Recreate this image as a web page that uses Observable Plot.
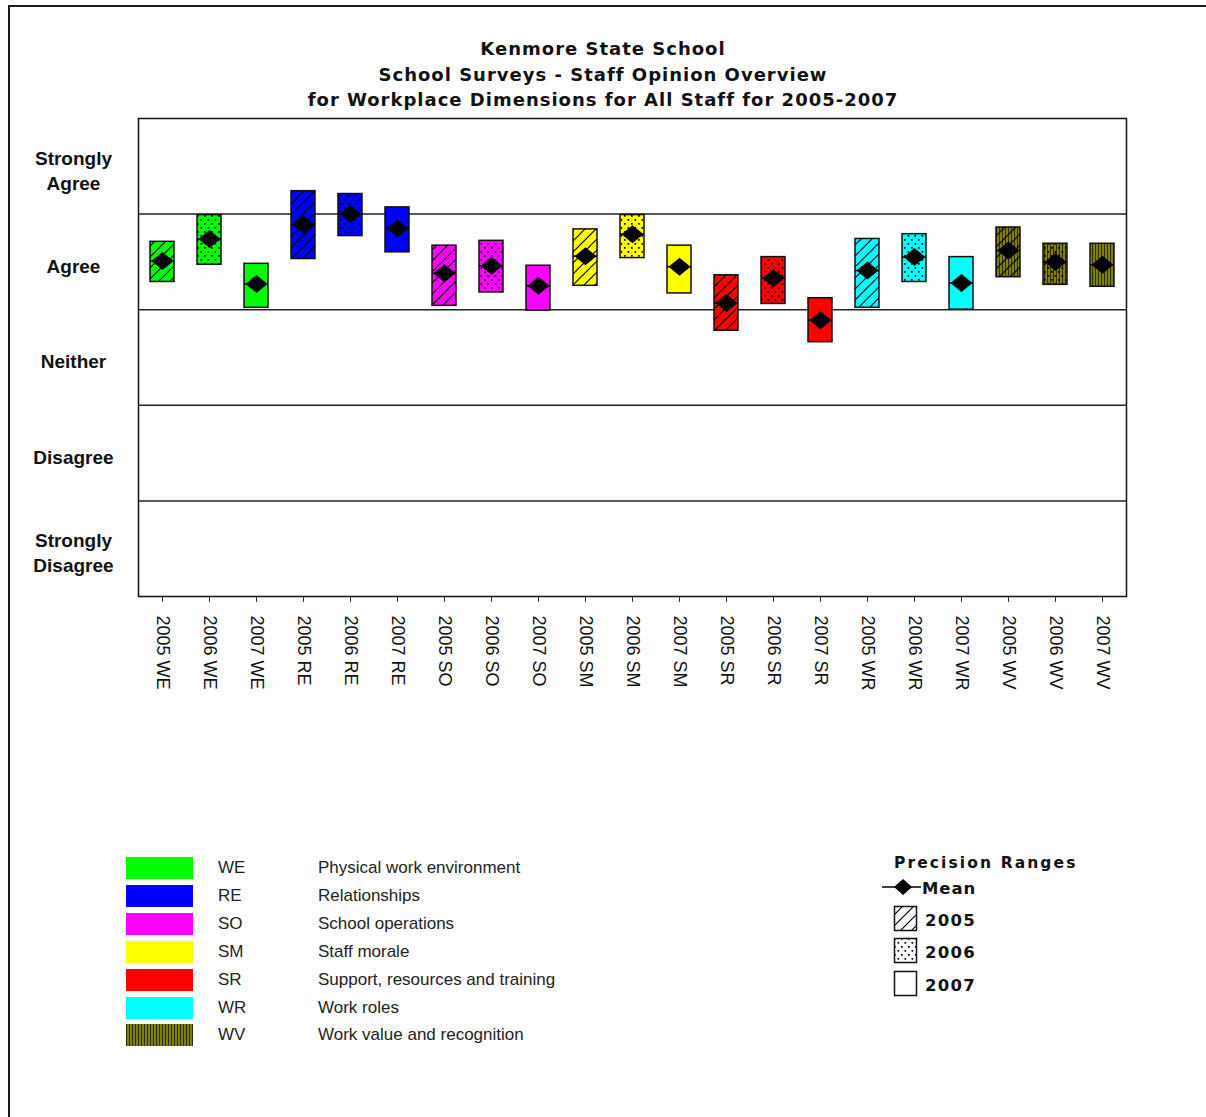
<!DOCTYPE html>
<html><head><meta charset="utf-8">
<script src="https://cdn.jsdelivr.net/npm/d3@7"></script>
<script src="https://cdn.jsdelivr.net/npm/@observablehq/plot@0.6"></script>
<style>
body{margin:0;background:#fff;}
#page{position:relative;width:1206px;height:1117px;overflow:hidden;background:#fff;}
#border{position:absolute;left:8px;top:5px;width:1300px;height:1200px;border-top:2px solid #1a1a1a;border-left:2px solid #1a1a1a;pointer-events:none;}
#title{position:relative;box-sizing:border-box;height:110px;padding-top:36px;text-align:center;font-family:"DejaVu Sans";font-weight:bold;font-size:18px;letter-spacing:1px;line-height:25.5px;color:#111;}
#chart{position:relative;}
.lg{position:absolute;font-family:"Liberation Sans";font-size:17px;color:#222;line-height:22px;height:22px;white-space:nowrap;}
.sw{position:absolute;width:67px;height:22px;}
.rl{position:absolute;font-family:"DejaVu Sans";font-weight:bold;color:#111;white-space:nowrap;}
</style>
</head><body>
<div id="page">
  <div id="border"></div>
  <div id="title">Kenmore State School<br>School Surveys - Staff Opinion Overview<br>for Workplace Dimensions for All Staff for 2005-2007</div>
  <div id="chart"></div>
  <div id="legend"></div>
</div>
<script>
// ---- data ----
const dimensions = ["WE", "RE", "SO", "SM", "SR", "WR", "WV"];
const dimensionNames = ["Physical work environment", "Relationships", "School operations", "Staff morale", "Support, resources and training", "Work roles", "Work value and recognition"];
const dimensionColors = ["#00ff00", "#0000ff", "#ff00ff", "#ffff00", "#ff0000", "#00ffff", "url(#wvStripes)"];
const years = [2005, 2006, 2007];
const levelLabels = ["Strongly\nDisagree", "Disagree", "Neither", "Agree", "Strongly\nAgree"];
const levelValues = [1, 2, 3, 4, 5];
const bandEdges = [1.5, 2.5, 3.5, 4.5];
// per category (dimension x year), in order WE 2005..2007, RE ..., WV
const means = [4.01, 4.24, 3.77, 4.39, 4.50, 4.35, 3.88, 3.96, 3.75, 4.06, 4.29, 3.95, 3.57, 3.83, 3.39, 3.91, 4.05, 3.78, 4.12, 4.00, 3.97];
const lows  = [3.79, 3.97, 3.52, 4.03, 4.27, 4.10, 3.54, 3.68, 3.49, 3.75, 4.04, 3.67, 3.28, 3.56, 3.16, 3.52, 3.79, 3.50, 3.84, 3.76, 3.74];
const highs = [4.21, 4.49, 3.98, 4.74, 4.71, 4.57, 4.17, 4.22, 3.96, 4.34, 4.49, 4.17, 3.86, 4.05, 3.62, 4.24, 4.29, 4.05, 4.36, 4.19, 4.19];

const rows = [];
dimensions.forEach((d, i) => years.forEach((yr, j) => {
  const k = i * 3 + j;
  rows.push({label: `${yr} ${d}`, dim: d, year: yr, color: dimensionColors[i], mean: means[k], lo: lows[k], hi: highs[k]});
}));
const categories = rows.map(r => r.label);

const wideDiamond = {draw(ctx) { ctx.moveTo(0, -9); ctx.lineTo(11, 0); ctx.lineTo(0, 9); ctx.lineTo(-11, 0); ctx.closePath(); }};

const chart = Plot.plot({
  width: 1206, height: 596,
  marginLeft: 138, marginRight: 80, marginTop: 8, marginBottom: 110,
  x: {domain: categories, paddingInner: 0.49, paddingOuter: 0.245, label: null},
  y: {domain: [0.5, 5.5], label: null},
  color: {type: "identity"},
  style: {fontFamily: "Liberation Sans", background: "transparent", overflow: "visible", color: "#111"},
  marks: [
    Plot.ruleY(bandEdges, {stroke: "#222", strokeWidth: 1.5}),
    Plot.barY(rows, {x: "label", y1: "lo", y2: "hi", fill: d => d.color}),
    Plot.barY(rows.filter(d => d.year === 2005), {x: "label", y1: "lo", y2: "hi", fill: "url(#hatch)"}),
    Plot.barY(rows.filter(d => d.year === 2006), {x: "label", y1: "lo", y2: "hi", fill: "url(#dots)"}),
    Plot.barY(rows, {x: "label", y1: "lo", y2: "hi", fill: "none", stroke: "#111", strokeWidth: 1.5}),
    Plot.tickY(rows, {x: "label", y: "mean", stroke: "#000", strokeWidth: 1.5}),
    Plot.dot(rows, {x: "label", y: "mean", symbol: wideDiamond, fill: "#000", stroke: "none"}),
    Plot.axisX({tickSize: 6, tickPadding: 13, tickRotate: 90, fontSize: 18, stroke: "#333", fill: "#111"}),
    Plot.axisY({ticks: levelValues, tickSize: 0, tickPadding: 65, textAnchor: "middle", lineAnchor: "middle", dy: 3,
      tickFormat: v => levelLabels[v - 1], fontSize: 19, fontWeight: "bold", lineHeight: 1.3, fill: "#111"}),
    Plot.frame({stroke: "#111", strokeWidth: 1.5})
  ]
});

// patterns
const defs = d3.select(chart).insert("defs", ":first-child");
const hatch = defs.append("pattern").attr("id", "hatch").attr("patternUnits", "userSpaceOnUse").attr("width", 11).attr("height", 11);
hatch.append("path").attr("d", "M0,11L11,0M-3,3L3,-3M8,14L14,8").attr("stroke", "#000").attr("stroke-width", 1.2);
const dots = defs.append("pattern").attr("id", "dots").attr("patternUnits", "userSpaceOnUse").attr("width", 7).attr("height", 8);
dots.append("rect").attr("x", 1).attr("y", 1).attr("width", 1.7).attr("height", 1.7).attr("fill", "#000");
dots.append("rect").attr("x", 4.5).attr("y", 5).attr("width", 1.7).attr("height", 1.7).attr("fill", "#000");
const wv = defs.append("pattern").attr("id", "wvStripes").attr("patternUnits", "userSpaceOnUse").attr("width", 3).attr("height", 10);
wv.append("rect").attr("width", 3).attr("height", 10).attr("fill", "#808000");
wv.append("rect").attr("width", 1).attr("height", 10).attr("fill", "#2e2e00");

document.getElementById("chart").appendChild(chart);

// ---- legend ----
const lg = document.getElementById("legend");
dimensions.forEach((d, i) => {
  const cy = 868 + i * 27.9;
  const top = cy - 11;
  if (dimensionColors[i].startsWith("url")) {
    lg.insertAdjacentHTML("beforeend", `<svg class="sw" style="left:126px;top:${top}px" width="67" height="22"><rect width="67" height="22" fill="${dimensionColors[i]}"/></svg>`);
  } else {
    lg.insertAdjacentHTML("beforeend", `<div class="sw" style="left:126px;top:${top}px;background:${dimensionColors[i]}"></div>`);
  }
  lg.insertAdjacentHTML("beforeend", `<div class="lg" style="left:218px;top:${top}px">${d}</div>`);
  lg.insertAdjacentHTML("beforeend", `<div class="lg" style="left:318px;top:${top}px">${dimensionNames[i]}</div>`);
});

lg.insertAdjacentHTML("beforeend", `<div class="rl" style="left:894px;top:853px;font-size:15.5px;letter-spacing:2.1px;line-height:20px">Precision Ranges</div>`);
lg.insertAdjacentHTML("beforeend", `<svg style="position:absolute;left:880px;top:877px" width="42" height="20"><line x1="2" y1="10" x2="41" y2="10" stroke="#000" stroke-width="1.5"/><path d="M23,2L32,10L23,18L14,10Z" fill="#000"/></svg>`);
lg.insertAdjacentHTML("beforeend", `<div class="rl" style="left:922px;top:878px;font-size:16.5px;letter-spacing:0.9px;line-height:22px">Mean</div>`);
const boxFills = ["url(#hatch)", "url(#dots)", "none"];
const boxTops = [905, 937, 970];
years.forEach((yr, j) => {
  lg.insertAdjacentHTML("beforeend", `<svg style="position:absolute;left:893px;top:${boxTops[j]}px" width="26" height="28"><rect x="1.5" y="1.5" width="22" height="24" fill="#fff"/><rect x="1.5" y="1.5" width="22" height="24" fill="${boxFills[j]}" stroke="#111" stroke-width="1.5"/></svg>`);
  lg.insertAdjacentHTML("beforeend", `<div class="rl" style="left:925px;top:${boxTops[j] + 5}px;font-size:16.5px;letter-spacing:1.3px;line-height:22px">${yr}</div>`);
});
</script>
</body></html>
